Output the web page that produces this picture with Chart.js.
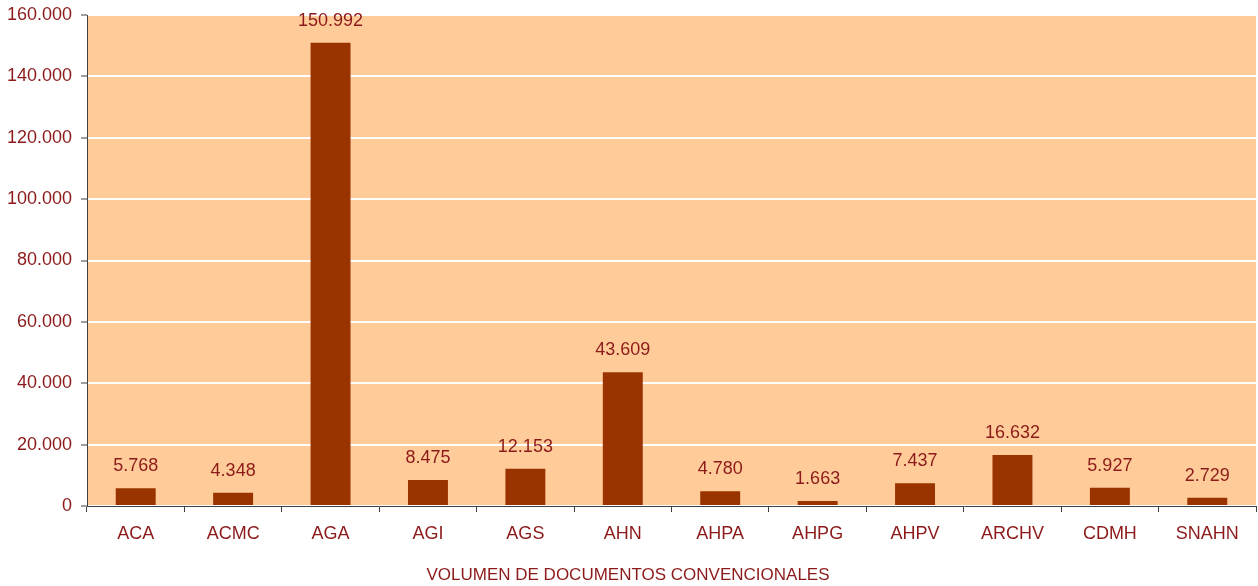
<!DOCTYPE html>
<html>
<head>
<meta charset="utf-8">
<script src="https://cdn.jsdelivr.net/npm/chart.js@4"></script>
<style>
  html, body { margin: 0; padding: 0; background: #ffffff; }
  #wrap { width: 1258px; height: 586px; }
</style>
</head>
<body>
<div id="wrap"><canvas id="chart" width="1258" height="586"></canvas></div>
<script>
// Data
const categories = ["ACA", "ACMC", "AGA", "AGI", "AGS", "AHN", "AHPA", "AHPG", "AHPV", "ARCHV", "CDMH", "SNAHN"];
const volumes = [5768, 4348, 150992, 8475, 12153, 43609, 4780, 1663, 7437, 16632, 5927, 2729];
const yTicks = [0, 20000, 40000, 60000, 80000, 100000, 120000, 140000, 160000];
const axisTitle = "VOLUMEN DE DOCUMENTOS CONVENCIONALES";

const textColor = "#8c1a1a";
const axisColor = "#404040";
const fontFamily = "'Liberation Sans', Arial, sans-serif";

// 12345 -> "12.345"
function fmt(v) {
    return String(v).replace(/\B(?=(\d{3})+(?!\d))/g, ".");
}

// bar value labels
const valueLabels = {
    id: "valueLabels",
    afterDatasetsDraw(chart) {
        const ctx = chart.ctx;
        const meta = chart.getDatasetMeta(0);
        ctx.save();
        ctx.font = "18px " + fontFamily;
        ctx.fillStyle = textColor;
        ctx.textAlign = "center";
        ctx.textBaseline = "middle";
        meta.data.forEach(function(bar, i) {
            ctx.fillText(fmt(chart.data.datasets[0].data[i]), bar.x, bar.y - 22);
        });
        ctx.restore();
    }
};

// peach plot background
const plotBg = {
    id: "plotBg",
    beforeDraw(chart) {
        const a = chart.chartArea;
        const ctx = chart.ctx;
        ctx.save();
        ctx.fillStyle = "#ffcc99";
        ctx.fillRect(a.left, a.top, a.right - a.left, a.bottom - a.top);
        ctx.restore();
    }
};

const ctx = document.getElementById("chart").getContext("2d");
new Chart(ctx, {
    type: "bar",
    data: {
        labels: categories,
        datasets: [{
            data: volumes,
            backgroundColor: "#993300",
            barPercentage: 0.41,
            categoryPercentage: 1.0
        }]
    },
    options: {
        responsive: false,
        animation: false,
        layout: { padding: { top: 15, right: 2, left: 0, bottom: 0 } },
        plugins: {
            legend: { display: false },
            tooltip: { enabled: false },
            title: {
                display: true,
                position: "bottom",
                text: axisTitle,
                color: textColor,
                padding: { top: 10, bottom: 0 },
                font: { family: fontFamily, size: 17, weight: "normal" }
            }
        },
        scales: {
            x: {
                grid: {
                    offset: true,
                    drawOnChartArea: false,
                    tickLength: 6,
                    tickColor: axisColor
                },
                border: { color: axisColor, width: 1 },
                ticks: {
                    color: textColor,
                    padding: 11,
                    maxRotation: 0,
                    font: { family: fontFamily, size: 18 }
                },
                afterFit(scale) { scale.height = 49.6; }
            },
            y: {
                min: 0,
                max: 160000,
                afterBuildTicks(scale) {
                    scale.ticks = yTicks.map(function(v) { return { value: v }; });
                },
                grid: {
                    color: "#ffffff",
                    lineWidth: 2,
                    tickLength: 6,
                    tickColor: axisColor,
                    tickWidth: 1
                },
                border: { color: axisColor, width: 1 },
                ticks: {
                    color: textColor,
                    padding: 9,
                    font: { family: fontFamily, size: 18 },
                    callback: function(v) { return fmt(v); }
                },
                afterFit(scale) {
                    scale.width = 87;
                    scale.paddingTop = 0;
                    scale.paddingBottom = 0;
                }
            }
        }
    },
    plugins: [plotBg, valueLabels]
});
</script>
</body>
</html>
